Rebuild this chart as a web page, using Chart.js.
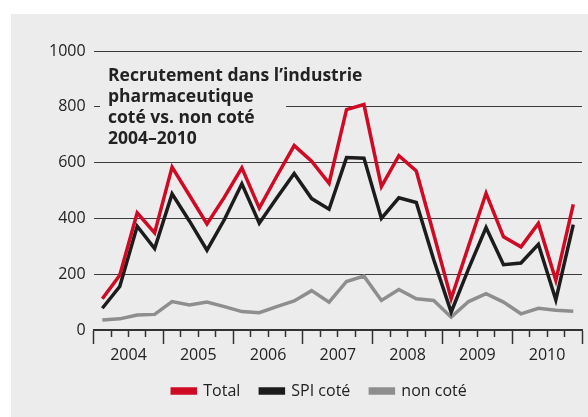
<!DOCTYPE html>
<html>
<head>
<meta charset="utf-8">
<script src="https://cdn.jsdelivr.net/npm/chart.js@4.4.0/dist/chart.umd.min.js"></script>
<style>
    body { margin: 0; background: #fff; width: 588px; height: 417px; position: relative; overflow: hidden; font-family: "Open Sans", sans-serif; }
    #panel { position: absolute; left: 11px; top: 14px; width: 577px; height: 403px; background: #ececec; }
    #title { position: absolute; left: 100px; top: 64px; width: 178px; height: 84px; padding-left: 8px; background: #ececec;
             font-weight: 700; font-size: 17.5px; line-height: 21px; color: #222; white-space: nowrap; }
</style>
</head>
<body>
<div id="panel"><canvas id="chart"></canvas></div>
<div id="title">Recrutement dans l’industrie<br>pharmaceutique<br>coté vs. non coté<br>2004–2010</div>
<script>
const years = ['2004', '2005', '2006', '2007', '2008', '2009', '2010'];
const quarterCount = 28;

// quarterly values, Q1..Q4 per year
const totalValues = [112, 196, 420, 348, 584, 482, 380, 476, 581, 437, 551, 661,
                     605, 526, 790, 808, 514, 625, 570, 343, 112, 302, 490, 334, 298, 382, 178, 450];
const spiValues = [78, 156, 372, 292, 488, 390, 286, 396, 524, 383, 473, 561,
                   471, 433, 618, 616, 400, 474, 457, 252, 64, 220, 367, 234, 240, 307, 108, 378];
const nonCoteValues = [36, 40, 54, 56, 102, 90, 100, 84, 66, 62, 84, 104,
                       141, 100, 174, 193, 106, 145, 112, 106, 46, 102, 130, 100, 58, 78, 71, 67];

const yTicks = [0, 200, 400, 600, 800, 1000];

// point i sits in the middle of quarter i
function toPoints(values) {
    return values.map((v, i) => ({ x: i + 0.5, y: v }));
}

function makeSet(label, values, color) {
    return {
        label: label,
        data: toPoints(values),
        borderColor: color,
        backgroundColor: color,
        borderWidth: 3.5,
        pointRadius: 0,
        tension: 0,
        borderJoinStyle: 'miter'
    };
}

// legend in the original sits a little right of centre
const legendNudge = {
    id: 'legendNudge',
    afterLayout(chart) {
        chart.legend.left += 8;
        chart.legend.right += 8;
    }
};

const ctx = document.getElementById('chart').getContext('2d');
new Chart(ctx, {
    type: 'line',
    data: {
        datasets: [
            makeSet('Total', totalValues, '#cf0a24'),
            makeSet('SPI coté', spiValues, '#1c1c1c'),
            makeSet('non coté', nonCoteValues, '#8e8e8e')
        ]
    },
    plugins: [legendNudge],
    options: {
        responsive: true,
        maintainAspectRatio: false,
        animation: false,
        layout: { padding: { left: 30, right: 6, top: 37, bottom: 8 } },
        plugins: {
            legend: {
                display: true,
                position: 'bottom',
                labels: {
                    boxWidth: 23,
                    boxHeight: 4,
                    padding: 20,
                    color: '#222',
                    font: { family: 'Open Sans', size: 16 }
                }
            },
            title: { display: false },
            tooltip: { enabled: false }
        },
        scales: {
            x: {
                type: 'linear',
                min: 0,
                max: quarterCount,
                afterBuildTicks: (scale) => {
                    scale.ticks = Array.from({ length: quarterCount + 1 }, (_, i) => ({ value: i }));
                },
                afterFit: (scale) => { scale.height = 33; },
                grid: {
                    drawOnChartArea: false,
                    tickLength: 14,
                    tickColor: '#333',
                    tickWidth: 1.5,
                    // quarter ticks short, year ticks long
                    tickBorderDash: (c) => (c.tick && c.tick.value % 4 === 0) ? [] : [6, 100]
                },
                border: { display: true, color: '#333', width: 2 },
                ticks: {
                    autoSkip: false,
                    maxRotation: 0,
                    padding: 2,
                    color: '#222',
                    font: { family: 'Open Sans', size: 16 },
                    callback: (v) => (v % 4 === 2) ? years[(v - 2) / 4] : ''
                }
            },
            y: {
                min: 0,
                max: 1000,
                afterBuildTicks: (scale) => {
                    scale.ticks = yTicks.map(v => ({ value: v }));
                },
                grid: { color: '#3a3a3a', lineWidth: 1, drawTicks: false },
                border: { display: false },
                ticks: {
                    padding: 8,
                    color: '#222',
                    font: { family: 'Open Sans', size: 16 },
                    callback: (v) => String(v)
                }
            }
        }
    }
});
</script>
</body>
</html>
